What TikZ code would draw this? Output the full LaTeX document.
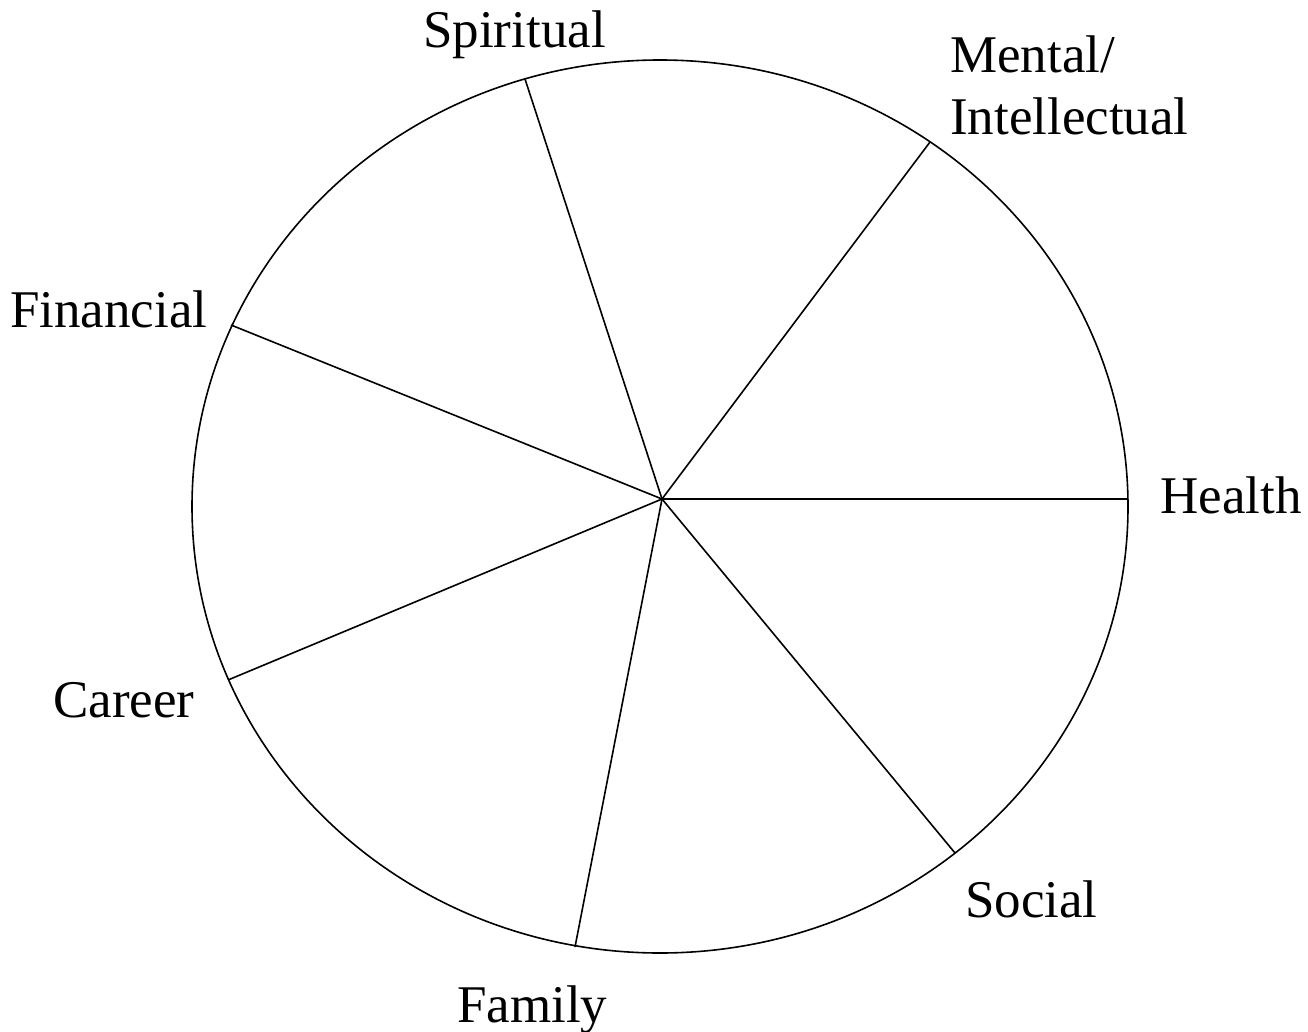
\documentclass[tikz,border=0pt]{standalone}
\usepackage{fontspec}
\setmainfont{Liberation Serif}
\begin{document}
\begin{tikzpicture}[x=1pt,y=-1pt,
  wheel/.style={line width=1.6pt, black},
  spoke/.style={line width=1.6pt, black},
  lbl/.style={anchor=base west, inner sep=0pt, font=\fontsize{53}{62}\selectfont, align=left}]
\useasboundingbox (0,0) rectangle (1308,1032);
\draw[wheel] (660,506.5) ellipse [x radius=468, y radius=446.5];
\coordinate (c) at (662,499);
\coordinate (pH) at (1128,499);
\coordinate (pM) at (930,142);
\coordinate (pS) at (525,79);
\coordinate (pF) at (231,325);
\coordinate (pC) at (228,680);
\coordinate (pY) at (575,947);
\coordinate (pO) at (955,853);
\foreach \p in {pH,pM,pS,pF,pC,pY,pO} \draw[spoke] (c) -- (\p);
\node[lbl] (spiritual) at (423,48) {Spiritual};
\node[lbl] (mental) at (950,73) {Mental/};
\node[lbl] (intellectual) at (950,135) {Intellectual};
\node[lbl] (health) at (1160,513) {Health};
\node[lbl] (financial) at (10,327) {Financial};
\node[lbl] (career) at (53,717) {Career};
\node[lbl] (family) at (457,1022) {Family};
\node[lbl] (social) at (965,917) {Social};
\end{tikzpicture}
\end{document}
